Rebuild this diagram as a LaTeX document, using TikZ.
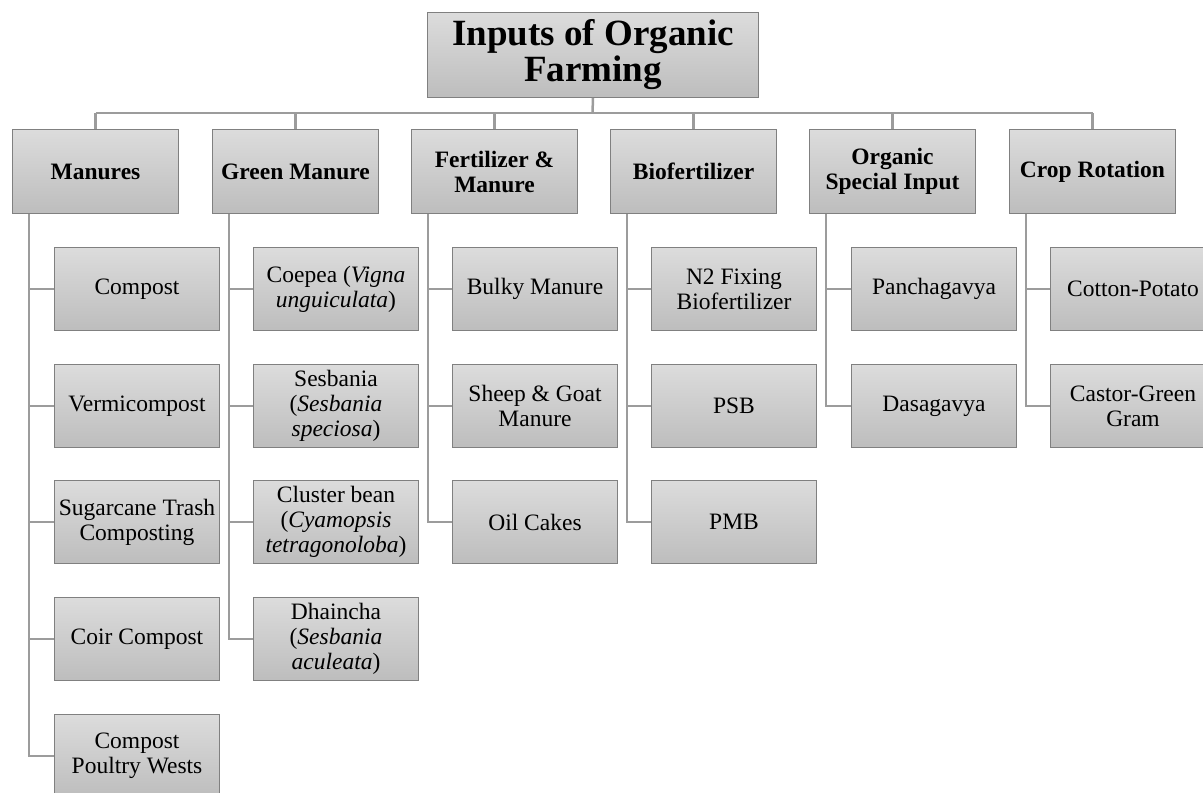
\documentclass[tikz,border=0pt]{standalone}
\usepackage{fontspec}
\setmainfont{Liberation Serif}
\definecolor{boxtop}{HTML}{DCDCDC}
\definecolor{boxbot}{HTML}{BDBDBD}
\definecolor{boxline}{HTML}{808080}
\definecolor{connline}{HTML}{9C9C9C}
\tikzset{
  base/.style={draw=boxline, line width=1pt, top color=boxtop, bottom color=boxbot,
    inner sep=0pt, align=center, anchor=north west},
  titlebox/.style={base, minimum width=331pt, minimum height=85pt,
    font=\fontsize{37}{36}\selectfont\bfseries},
  catbox/.style={base, minimum width=166pt, minimum height=84pt,
    font=\fontsize{23.5}{25}\selectfont\bfseries},
  itembox/.style={base, minimum width=165pt, minimum height=83pt,
    font=\fontsize{23.5}{25}\selectfont},
  conn/.style={draw=connline, line width=2.5pt},
}
\begin{document}
\begin{tikzpicture}[x=1pt,y=-1pt]
\useasboundingbox (0,0) rectangle (1203,793);
\clip (0,0) rectangle (1203,793);
% title
\node[titlebox] (top) at (427,12) {Inputs of Organic\\Farming};
% categories
\node[catbox] (c1) at (12,129) {Manures};
\node[catbox] (c2) at (212,129) {Green Manure};
\node[catbox] (c3) at (411,129) {Fertilizer \&\\Manure};
\node[catbox] (c4) at (610,129) {Biofertilizer};
\node[catbox] (c5) at (809,129) {Organic\\Special Input};
\node[catbox] (c6) at (1009,129) {Crop Rotation};
% bus
\coordinate (bus) at (592.5,113);
\draw[conn] (bus -| c1.north) -- (bus -| c6.north);
\draw[conn] (top.south) -- (bus);
\foreach \c in {c1,c2,c3,c4,c5,c6} {\draw[conn] (bus -| \c.north) -- (\c.north);}
% Manures
\node[itembox] (a1) at (54,247) {Compost};
\node[itembox] (a2) at (54,364) {Vermicompost};
\node[itembox] (a3) at (54,480) {Sugarcane Trash\\Composting};
\node[itembox] (a4) at (54,597) {Coir Compost};
\node[itembox] (a5) at (54,714) {Compost\\Poultry Wests};
% Green manure
\node[itembox] (b1) at (253,247) {Coepea (\textit{Vigna}\\\textit{unguiculata})};
\node[itembox] (b2) at (253,364) {Sesbania\\(\textit{Sesbania}\\\textit{speciosa})};
\node[itembox] (b3) at (253,480) {Cluster bean\\(\textit{Cyamopsis}\\\textit{tetragonoloba})};
\node[itembox] (b4) at (253,597) {Dhaincha\\(\textit{Sesbania}\\\textit{aculeata})};
% Fertilizer & manure
\node[itembox] (d1) at (452,247) {Bulky Manure};
\node[itembox] (d2) at (452,364) {Sheep \& Goat\\Manure};
\node[itembox] (d3) at (452,480) {Oil Cakes};
% Biofertilizer
\node[itembox] (e1) at (651,247) {N2 Fixing\\Biofertilizer};
\node[itembox] (e2) at (651,364) {PSB};
\node[itembox] (e3) at (651,480) {PMB};
% Organic special input
\node[itembox] (f1) at (851,247) {Panchagavya};
\node[itembox] (f2) at (851,364) {Dasagavya};
% Crop rotation
\node[itembox] (g1) at (1050,247) {Cotton-Potato};
\node[itembox] (g2) at (1050,364) {Castor-Green\\Gram};
% connectors
\foreach \c/\list in {c1/{a1,a2,a3,a4,a5}, c2/{b1,b2,b3,b4}, c3/{d1,d2,d3}, c4/{e1,e2,e3}, c5/{f1,f2}, c6/{g1,g2}} {
  \foreach \k in \list {
    \draw[conn] ([xshift=17pt]\c.south west) |- (\k.west);
  }
}
\end{tikzpicture}
\end{document}
